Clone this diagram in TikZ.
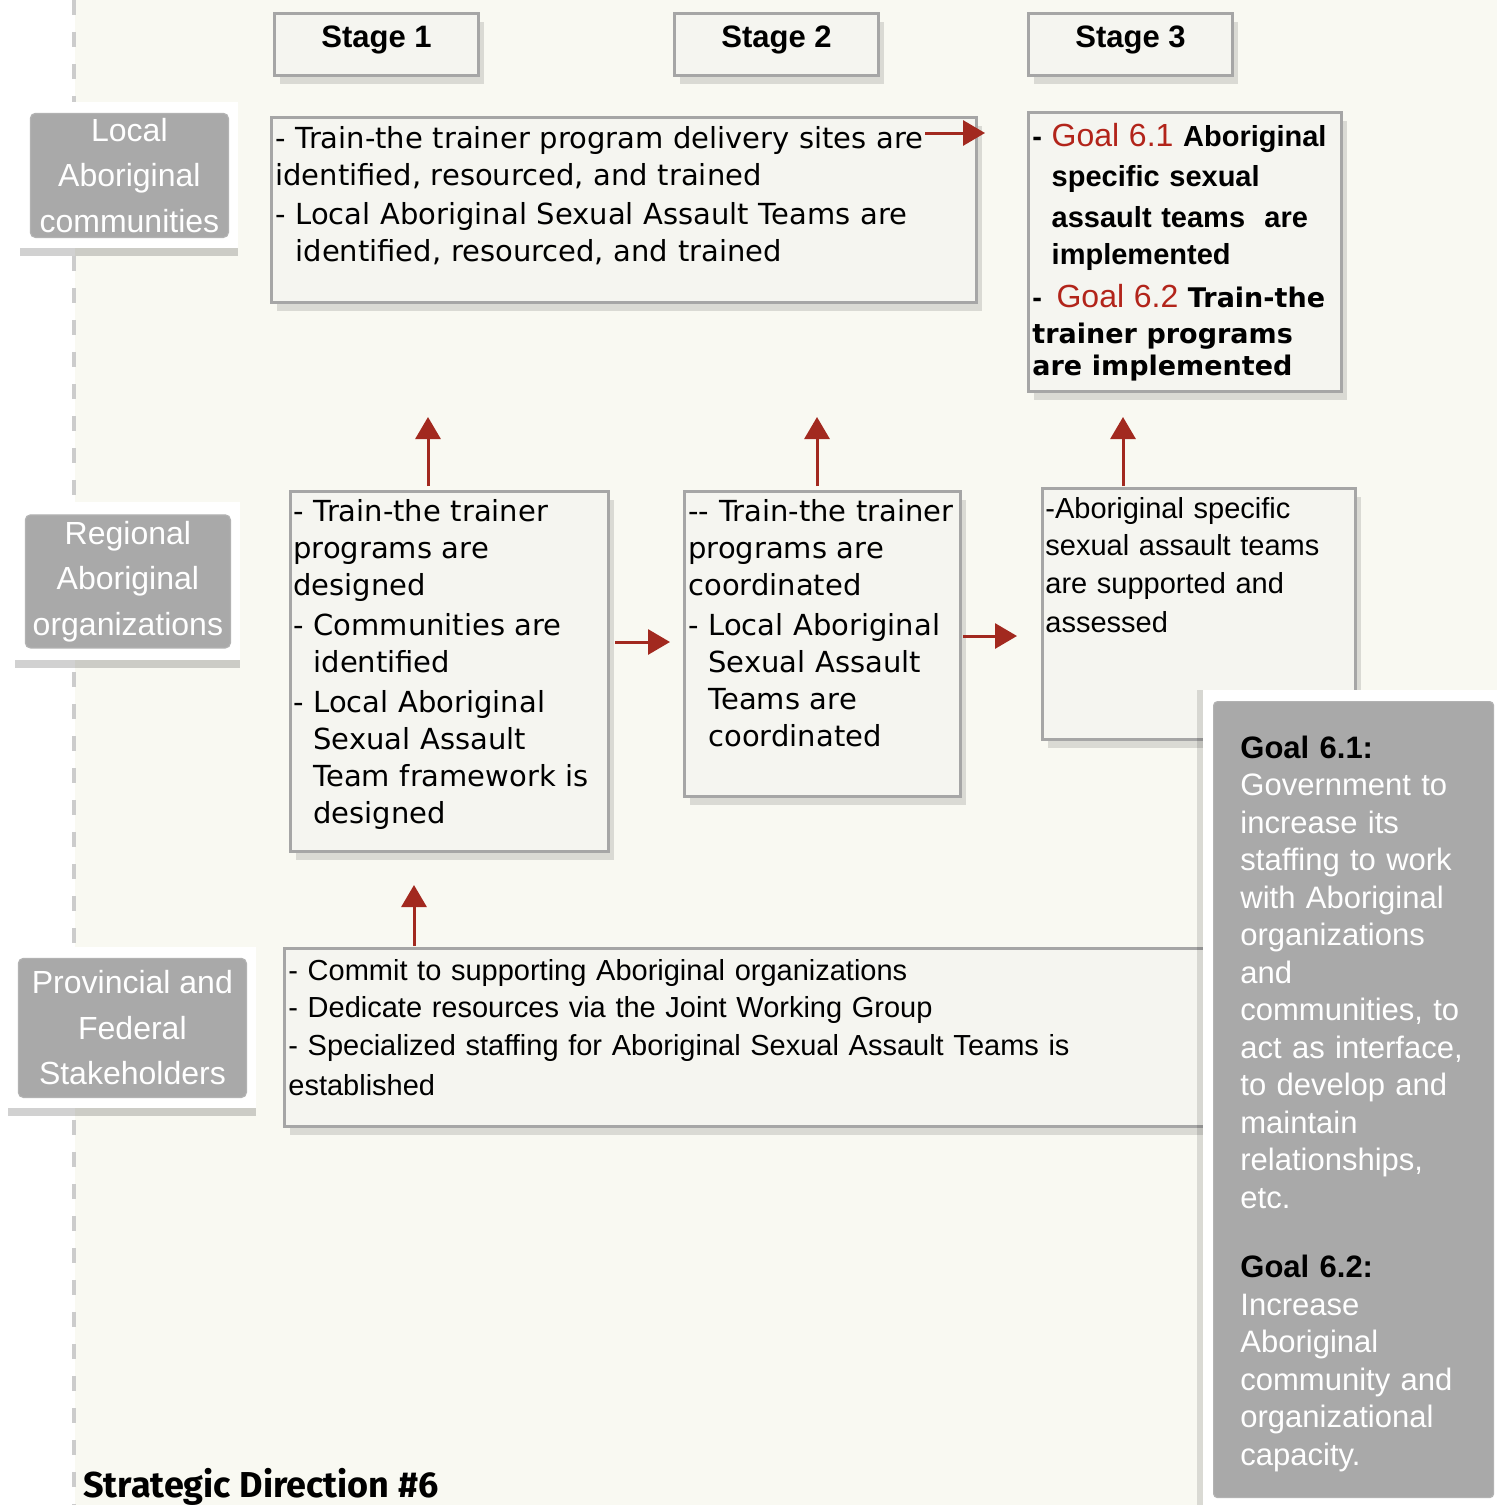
\documentclass[tikz,border=0pt]{standalone}
\usepackage{fontspec}
\setmainfont{Liberation Sans}
\newfontfamily\verd{DejaVu Sans}
\newfontfamily\gill{Fira Sans}
\usetikzlibrary{arrows.meta,shadows,positioning}
\definecolor{cream}{HTML}{F9F9F2}
\definecolor{boxfill}{HTML}{F5F5F0}
\definecolor{boxline}{HTML}{A6A6A6}
\definecolor{labelgray}{HTML}{A9A9A9}
\definecolor{goalred}{HTML}{B2241A}
\definecolor{arrowred}{HTML}{A2291F}
\tikzset{
  basic/.style = {draw=boxline, line width=1.5pt, fill=boxfill, rectangle, inner sep=0pt, anchor=north west,
                  drop shadow={shadow xshift=2.5pt, shadow yshift=-4pt, opacity=0.12, fill=black}},
  stage box/.style = {basic, minimum width=102pt, minimum height=31pt, text height=11pt, text depth=8pt,
                      font=\fontsize{15.5}{18}\selectfont\bfseries},
  verd text/.style = {anchor=base west, align=left, text width=520pt, inner sep=0pt,
                      font=\verd\fontsize{14.5}{18.5}\selectfont},
  arial text/.style = {verd text, font=\fontsize{14.5}{18.7}\selectfont},
  panel text/.style = {verd text, text=white, font=\fontsize{15.5}{18.75}\selectfont},
  side frame/.style = {fill=white, inner sep=0pt, anchor=north west,
                       drop shadow={shadow xshift=0pt, shadow yshift=-4pt, opacity=0.18, fill=black}},
  side label/.style = {fill=labelgray, draw=black!30, line width=0.6pt, rounded corners=2.5pt, text=white,
                       align=center, inner sep=0pt, font=\fontsize{16}{22.75}\selectfont},
  red arrow/.style = {draw=arrowred, line width=1.5pt, -{Triangle[length=11pt,width=12.5pt]}},
  dash line/.style = {draw=black!20, line width=2pt, dash pattern=on 7.5pt off 8.5pt}
}
\begin{document}
\begin{tikzpicture}[x=0.5pt,y=-0.5pt]
\useasboundingbox (0,0) rectangle (1497,1505);
\fill[white] (0,0) rectangle (75,1505);
\fill[cream] (75,0) rectangle (1497,1505);
\draw[dash line] (74,0) -- (74,1505);

\node[stage box] (stage1) at (273,12) {Stage 1};
\node[stage box] (stage2) at (673,12) {Stage 2};
\node[stage box] (stage3) at (1027,12) {Stage 3};

\node[basic, minimum width=352.5pt, minimum height=92.5pt] (loc1) at (270,116) {};
\node[verd text] (loc1txt) at ([xshift=2.5pt,yshift=-16.25pt]loc1.north west)
  {- Train-the trainer program delivery sites are\\identified, resourced, and trained\\[1pt]
   - Local Aboriginal Sexual Assault Teams are\\\phantom{- }identified, resourced, and trained};

\node[basic, minimum width=156.5pt, minimum height=139.5pt] (loc3) at (1027,111) {};
\node[arial text] (loc3txt) at ([xshift=2.5pt,yshift=-17.75pt]loc3.north west)
  {{\bfseries -} {\fontsize{16}{18}\selectfont\color{goalred}Goal 6.1} {\bfseries Aboriginal}\\[1.5pt]
   \phantom{\bfseries - }{\bfseries specific sexual}\\[1.5pt]
   \phantom{\bfseries - }{\bfseries assault teams\ \ are}\\
   \phantom{\bfseries - }{\bfseries implemented}\\[2.5pt]
   {\bfseries -}\ \,{\fontsize{16}{18}\selectfont\color{goalred}Goal 6.2} {\verd\bfseries\fontsize{13.5}{16}\selectfont Train-the}\\[-0.5pt]
   {\verd\bfseries\fontsize{13.5}{16}\selectfont trainer programs}\\[-2.5pt]
   {\verd\bfseries\fontsize{13.5}{16}\selectfont are implemented}};

\node[basic, minimum width=159pt, minimum height=180pt] (reg1) at (289,490) {};
\node[verd text] (reg1txt) at ([xshift=2pt,yshift=-15.75pt]reg1.north west)
  {- Train-the trainer\\programs are\\designed\\[1.5pt]
   - Communities are\\\phantom{- }identified\\[1.5pt]
   - Local Aboriginal\\\phantom{- }Sexual Assault\\\phantom{- }Team framework is\\\phantom{- }designed};

\node[basic, minimum width=138pt, minimum height=152.5pt] (reg2) at (683,490) {};
\node[verd text] (reg2txt) at ([xshift=2.5pt,yshift=-15.75pt]reg2.north west)
  {-{}- Train-the trainer\\programs are\\coordinated\\[1.5pt]
   - Local Aboriginal\\\phantom{- }Sexual Assault\\\phantom{- }Teams are\\\phantom{- }coordinated};

\node[basic, minimum width=156.5pt, minimum height=125.5pt] (reg3) at (1041,487) {};
\node[arial text] (reg3txt) at ([xshift=2pt,yshift=-15.75pt]reg3.north west)
  {-Aboriginal specific\\sexual assault teams\\are supported and\\[1pt]assessed};

\node[basic, minimum width=466pt, minimum height=89pt] (prov1) at (283,947) {};
\node[arial text] (prov1txt) at ([xshift=2.5pt,yshift=-16.75pt]prov1.north west)
  {- Commit to supporting Aboriginal organizations\\- Dedicate resources via the Joint Working Group\\
   - Specialized staffing for Aboriginal Sexual Assault Teams is\\[1.5pt]established};

\coordinate (up1) at (428,417);
\coordinate (up2) at (817,417);
\coordinate (up3) at (1123,417);
\coordinate (up4) at (414,885);
\coordinate (row1) at (925,133);
\coordinate (row2a) at (0,642);
\coordinate (row2b) at (0,636);
\draw[red arrow, shorten >=21pt] (row1) -- (row1 -| loc3.west);
\draw[red arrow, shorten <=2.5pt, shorten >=6.5pt] (reg1.east |- row2a) -- (reg2.west |- row2a);
\draw[red arrow, shorten <=0.5pt, shorten >=12pt] (reg2.east |- row2b) -- (reg3.west |- row2b);
\draw[red arrow, shorten <=2pt] (reg1.north -| up1) -- (up1);
\draw[red arrow, shorten <=2pt] (reg2.north -| up2) -- (up2);
\draw[red arrow, shorten <=0.5pt] (reg3.north -| up3) -- (up3);
\draw[red arrow, shorten <=0.5pt] (prov1.north -| up4) -- (up4);

\node[side frame, minimum width=109pt, minimum height=73pt] (locframe) at (20,102) {};
\node[side label, minimum width=99pt, minimum height=62pt] (local) at (locframe.center) {Local\\Aboriginal\\communities};
\node[side frame, minimum width=112.5pt, minimum height=79pt] (regframe) at (15,502) {};
\node[side label, minimum width=102.5pt, minimum height=66.5pt] (regional) at (regframe.center) {Regional\\Aboriginal\\organizations};
\node[side frame, minimum width=124pt, minimum height=80.5pt] (provframe) at (8,947) {};
\node[side label, minimum width=114pt, minimum height=69.5pt] (provincial) at (provframe.center) {Provincial and\\Federal\\Stakeholders};

\node[side frame, minimum width=150pt, minimum height=410pt,
      drop shadow={shadow xshift=-3pt, shadow yshift=0pt, opacity=0.12, fill=black}] (goalframe) at (1203,690) {};
\node[fill=labelgray, draw=black!30, line width=0.6pt, rounded corners=2pt, anchor=north west, inner sep=0pt,
      minimum width=140pt, minimum height=398pt] (goals) at (1213,701) {};
\node[panel text] (goalstxt) at ([xshift=13.5pt,yshift=-28.5pt]goals.north west)
  {{\color{black}\bfseries Goal 6.1:}\\Government to\\increase its\\staffing to work\\with Aboriginal\\organizations\\and\\
   communities, to\\act as interface,\\to develop and\\maintain\\relationships,\\etc.\\[16pt]
   {\color{black}\bfseries Goal 6.2:}\\Increase\\Aboriginal\\community and\\organizational\\capacity.};

\node[anchor=base west, inner sep=0pt, font=\gill\bfseries\fontsize{18}{20}\selectfont] (title) at (83,1497) {Strategic Direction \#6};
\end{tikzpicture}
\end{document}
